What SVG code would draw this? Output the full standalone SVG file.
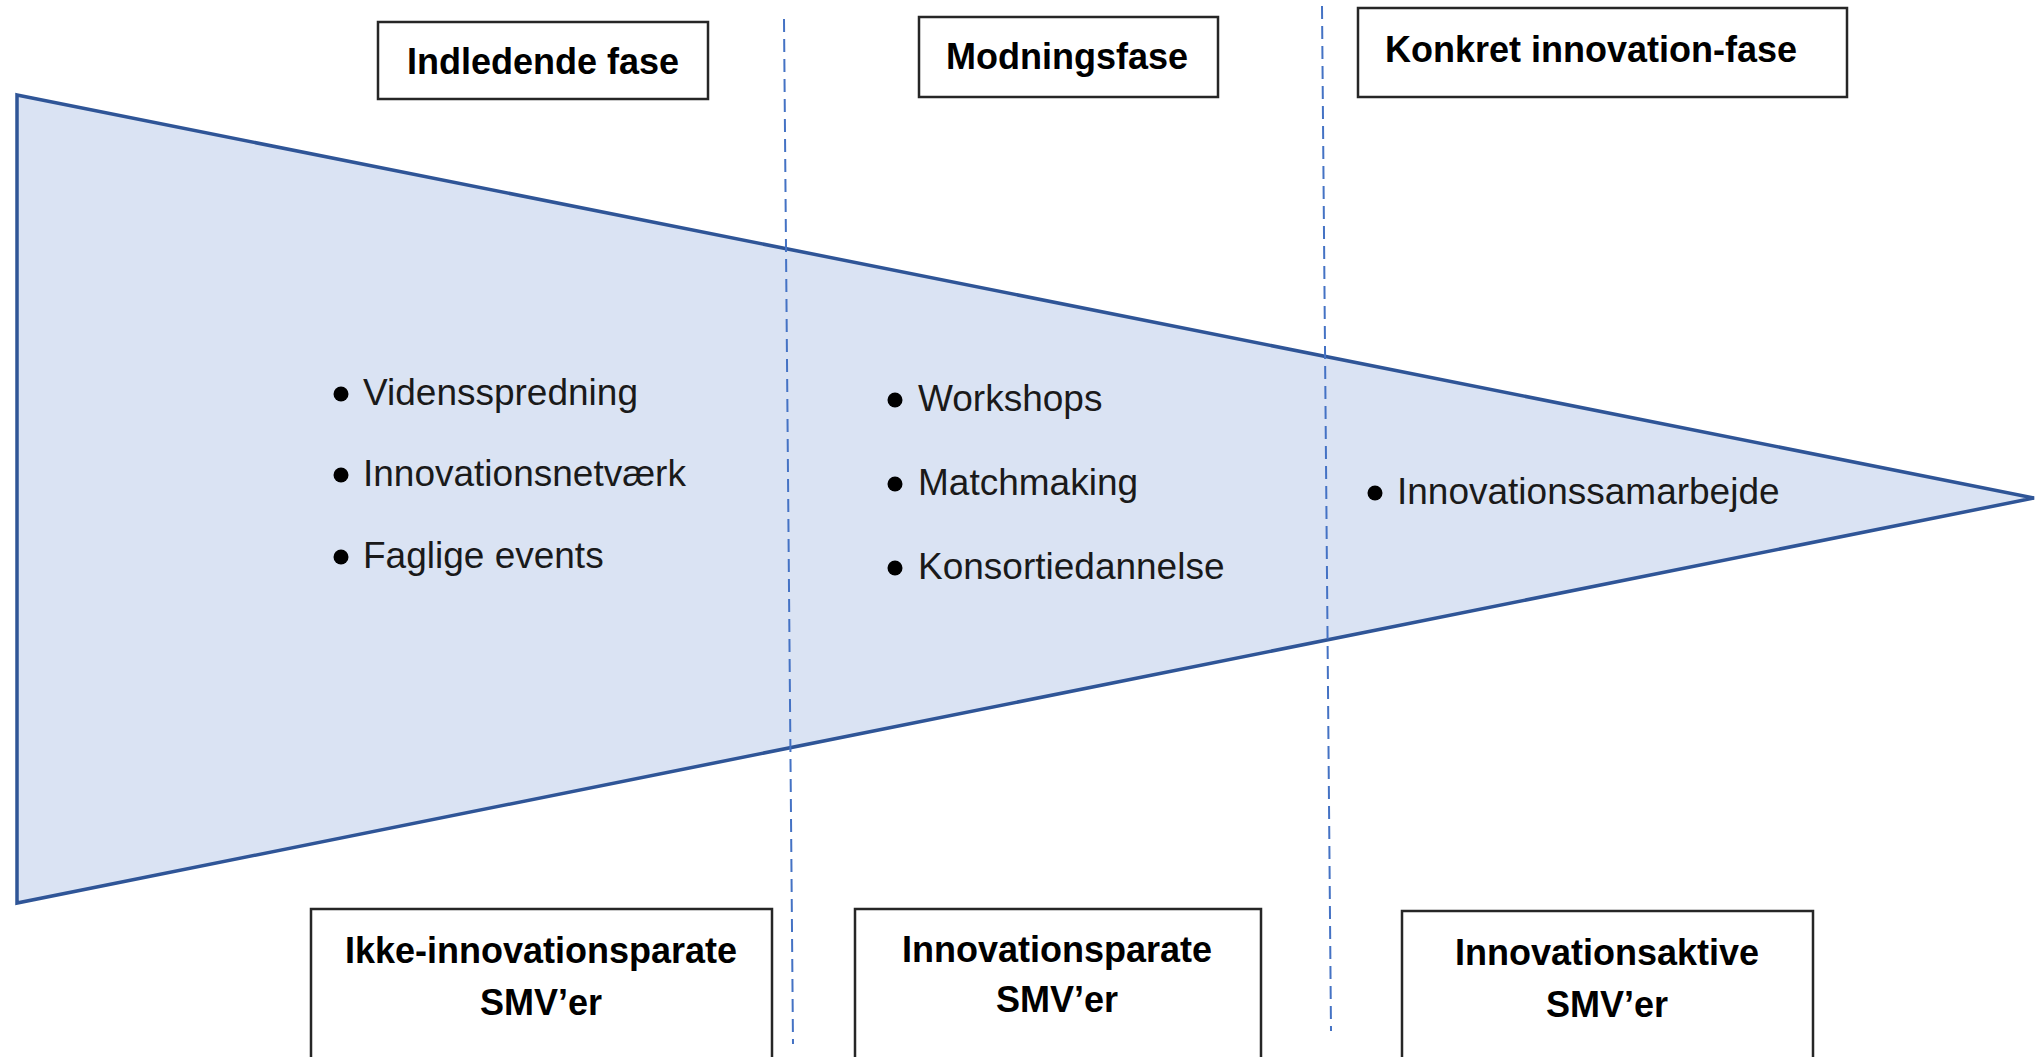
<svg xmlns="http://www.w3.org/2000/svg" width="2038" height="1057" viewBox="0 0 2038 1057">
<style>
.box{fill:#ffffff;stroke:#262626;stroke-width:2.5}
.hdr{font-family:"Liberation Sans",Arial,sans-serif;font-weight:bold;font-size:36px;fill:#000;text-anchor:middle}
.item{font-family:"Liberation Sans",Arial,sans-serif;font-size:37px;fill:#1a1a1a}
.dot{fill:#000}
.sep{stroke:#4472C4;stroke-width:2;stroke-dasharray:13 7;fill:none}
</style>
<rect width="2038" height="1057" fill="#ffffff"/>
<g id="funnel">
<polygon points="17,95 2034,498 17,903" fill="#DAE3F3" stroke="#2F5597" stroke-width="3.5" stroke-linejoin="miter"/>
</g>
<g id="connectors">
<line class="sep" x1="784" y1="19" x2="793" y2="1044"/>
<line class="sep" x1="1322" y1="6" x2="1331" y2="1031"/>
</g>
<g id="phase-indledende">
<rect class="box" x="378" y="22" width="330" height="77"/>
<text class="hdr" x="543" y="74">Indledende fase</text>
</g>
<g id="phase-modning">
<rect class="box" x="919" y="17" width="299" height="80"/>
<text class="hdr" x="1067" y="69">Modningsfase</text>
</g>
<g id="phase-konkret">
<rect class="box" x="1358" y="8" width="489" height="89"/>
<text class="hdr" x="1591" y="62">Konkret innovation-fase</text>
</g>
<g id="items-left">
<circle class="dot" cx="341" cy="394" r="7.5"/>
<text class="item" x="363" y="405">Vidensspredning</text>
<circle class="dot" cx="341" cy="475" r="7.5"/>
<text class="item" x="363" y="486">Innovationsnetværk</text>
<circle class="dot" cx="341" cy="557" r="7.5"/>
<text class="item" x="363" y="568">Faglige events</text>
</g>
<g id="items-middle">
<circle class="dot" cx="895" cy="400" r="7.5"/>
<text class="item" x="918" y="411">Workshops</text>
<circle class="dot" cx="895" cy="484" r="7.5"/>
<text class="item" x="918" y="495">Matchmaking</text>
<circle class="dot" cx="895" cy="568" r="7.5"/>
<text class="item" x="918" y="579">Konsortiedannelse</text>
</g>
<g id="items-right">
<circle class="dot" cx="1375" cy="493" r="7.5"/>
<text class="item" x="1397" y="504">Innovationssamarbejde</text>
</g>
<g id="group-ikke">
<rect class="box" x="311" y="909" width="461" height="160"/>
<text class="hdr" x="541" y="963">Ikke-innovationsparate</text>
<text class="hdr" x="541" y="1015">SMV’er</text>
</g>
<g id="group-parate">
<rect class="box" x="855" y="909" width="406" height="160"/>
<text class="hdr" x="1057" y="962">Innovationsparate</text>
<text class="hdr" x="1057" y="1012">SMV’er</text>
</g>
<g id="group-aktive">
<rect class="box" x="1402" y="911" width="411" height="160"/>
<text class="hdr" x="1607" y="965">Innovationsaktive</text>
<text class="hdr" x="1607" y="1017">SMV’er</text>
</g>
</svg>
